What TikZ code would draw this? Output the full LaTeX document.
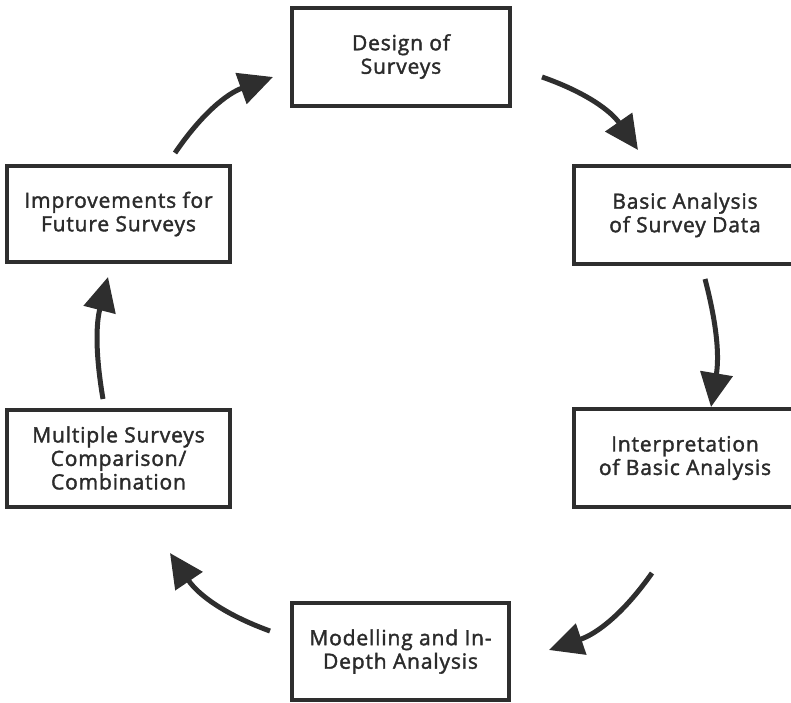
\documentclass[tikz,border=0pt]{standalone}
\usepackage{fontspec}
\setmainfont{Open Sans}
\newfontfamily\boxfont[FakeBold=1.8,LetterSpace=4]{Open Sans}
\usetikzlibrary{arrows.meta}
\definecolor{ink}{HTML}{2E2E2E}
\definecolor{txt}{HTML}{2B2B2B}
\begin{document}
\begin{tikzpicture}[x=1pt,y=-1pt,
  box/.style={draw=ink,line width=4pt,fill=white,align=center,text=txt,
    font=\boxfont\fontsize{21}{23.5}\selectfont,inner sep=0pt},
  flow/.style={draw=ink,line width=5pt,-{Triangle[length=34pt,width=32pt]}}]
\useasboundingbox (0,0) rectangle (791,702);
\clip (0,0) rectangle (791,702);
\node[box,minimum width=218pt,minimum height=98pt] (design) at (401,56.5) {Design of\\Surveys};
\node[box,minimum width=222pt,minimum height=98pt] (basic) at (685,215) {Basic Analysis\\of Survey Data};
\node[box,minimum width=222pt,minimum height=98pt] (interp) at (685,458) {Interpretation\\of Basic Analysis};
\node[box,minimum width=217pt,minimum height=97pt] (model) at (400.5,651.5) {Modelling and In-\\Depth Analysis};
\node[box,minimum width=223pt,minimum height=97pt] (multi) at (118.5,458) {Multiple Surveys\\Comparison/\\Combination};
\node[box,minimum width=223pt,minimum height=96pt] (improve) at (118.5,214) {Improvements for\\Future Surveys};
\coordinate (a1s) at (542,77);  \coordinate (a1e) at (638,150);
\coordinate (a2s) at (705,279); \coordinate (a2e) at (711,407);
\coordinate (a3s) at (652,573); \coordinate (a3e) at (549,650);
\coordinate (a4s) at (270,631); \coordinate (a4e) at (170,553);
\coordinate (a5s) at (103,399); \coordinate (a5e) at (108,277);
\coordinate (a6s) at (175,153); \coordinate (a6e) at (273,77);
\draw[flow] (a1s) to[bend left=18] (a1e);
\draw[flow] (a2s) to[bend left=12] (a2e);
\draw[flow] (a3s) to[bend left=18] (a3e);
\draw[flow] (a4s) to[bend left=18] (a4e);
\draw[flow] (a5s) to[bend left=12] (a5e);
\draw[flow] (a6s) to[bend left=18] (a6e);
\end{tikzpicture}
\end{document}
